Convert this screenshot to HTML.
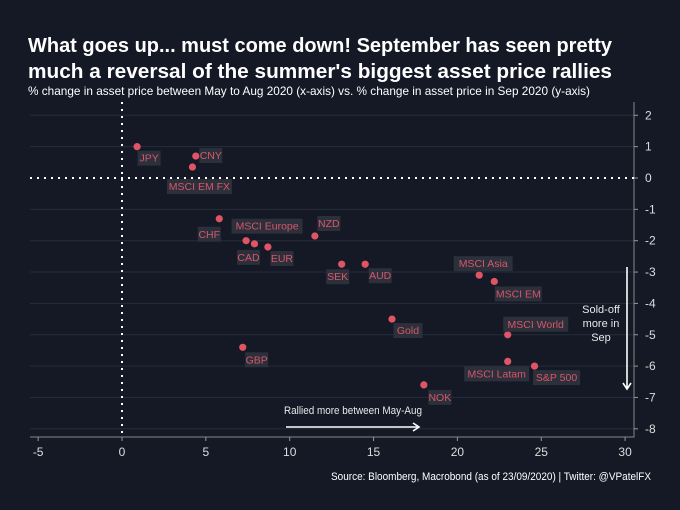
<!DOCTYPE html>
<html><head><meta charset="utf-8"><style>
body{margin:0;background:#141925;}
svg{display:block;font-family:"Liberation Sans","DejaVu Sans",sans-serif;}
</style></head><body>
<svg id="c" width="680" height="510" viewBox="0 0 680 510">
<rect width="680" height="510" fill="#141925"/>
<text x="28" y="52" fill="#fff" font-size="20.5" font-weight="bold" textLength="584" lengthAdjust="spacingAndGlyphs">What goes up... must come down! September has seen pretty</text>
<text x="28" y="78" fill="#fff" font-size="20.5" font-weight="bold" textLength="584" lengthAdjust="spacingAndGlyphs">much a reversal of the summer's biggest asset price rallies</text>
<text x="28" y="95" fill="#fff" font-size="12" textLength="562" lengthAdjust="spacingAndGlyphs">% change in asset price between May to Aug 2020 (x-axis) vs. % change in asset price in Sep 2020 (y-axis)</text>
<g id="grid"></g><g id="axes"></g><g id="marks"></g>
<text x="353" y="414" fill="#e8e8e8" font-size="11" text-anchor="middle" textLength="138" lengthAdjust="spacingAndGlyphs">Rallied more between May-Aug</text>
<g stroke="#fff" stroke-width="1.6" fill="none">
<line x1="286" y1="427" x2="419" y2="427"/><polyline points="413,423 419,427 413,431"/></g>
<text fill="#e8e8e8" font-size="11" text-anchor="middle"><tspan x="601" y="313">Sold-off</tspan><tspan x="601" y="327">more in</tspan><tspan x="601" y="341">Sep</tspan></text>
<g stroke="#fff" stroke-width="1.6" fill="none">
<line x1="627" y1="267" x2="627" y2="389"/><polyline points="623,383 627,389 631,383"/></g>
<text x="651" y="480" fill="#fff" font-size="11" text-anchor="end" textLength="320" lengthAdjust="spacingAndGlyphs">Source: Bloomberg, Macrobond (as of 23/09/2020) | Twitter: @VPatelFX</text>
</svg>
<script>
const names=["JPY","CNY","MSCI EM FX","CHF","MSCI Europe","CAD","EUR","NZD","SEK","AUD","Gold","MSCI Asia","MSCI EM","MSCI World","GBP","MSCI Latam","S&P 500","NOK"];
const xVals=[0.9,4.4,4.2,5.8,7.4,7.9,8.7,11.5,13.1,14.5,16.1,21.3,22.2,23.0,7.2,23.0,24.6,18.0];
const yVals=[1.0,0.7,0.35,-1.3,-2.0,-2.1,-2.2,-1.85,-2.75,-2.75,-4.5,-3.1,-3.3,-5.0,-5.4,-5.85,-6.0,-6.6];
const xTicks=[-5,0,5,10,15,20,25,30];
const yTicks=[2,1,0,-1,-2,-3,-4,-5,-6,-7,-8];
const labDx=[12,15,7,-10,21,-6,14,14,-4,15,16,4,24,28,14,-11,22,16];
const labDy=[11,-1,19,15,-15,13,11,-13,12,11,11,-12,12,-11,12,12,11,12];
const X=v=>122+v*16.77, Y=v=>178-v*31.35;
const L=30,R=634,T=102,B=437,ns="http://www.w3.org/2000/svg";
function mk(p,t,a){const e=document.createElementNS(ns,t);for(const k in a)e.setAttribute(k,a[k]);p.appendChild(e);return e;}
const grid=document.getElementById('grid'),axes=document.getElementById('axes'),marks=document.getElementById('marks');
yTicks.forEach(t=>{const y=Y(t);
 if(t!==0){const g=mk(grid,'line',{x1:L,x2:R,y1:y,y2:y,stroke:'#262c3a','stroke-width':1});
 
 }
 mk(axes,'line',{x1:R,x2:R+4,y1:y,y2:y,stroke:'#999'});
 const tx=mk(axes,'text',{x:R+11,y:y+4,fill:'#ddd','font-size':12});tx.textContent=t;
 
 });
xTicks.forEach(t=>{const x=X(t);
 mk(axes,'line',{x1:x,x2:x,y1:B,y2:B+4,stroke:'#999'});
 const tx=mk(axes,'text',{x:x,y:B+19,fill:'#ddd','font-size':12,'text-anchor':'middle'});tx.textContent=t;
 
 });
const ax=mk(axes,'polyline',{points:`${L},${B} ${R},${B} ${R},${T}`,fill:'none',stroke:'#888'});


const z1=mk(axes,'line',{x1:X(0),x2:X(0),y1:T,y2:B,stroke:'#fff','stroke-width':2,'stroke-dasharray':'2 5'});


const z2=mk(axes,'line',{x1:L,x2:R,y1:Y(0),y2:Y(0),stroke:'#fff','stroke-width':2,'stroke-dasharray':'2 5'});


names.forEach((n,i)=>{const px=X(xVals[i]),py=Y(yVals[i]);
 const c=mk(marks,'circle',{cx:px,cy:py,r:3.6,fill:'#e05566'});
 
 
 const cx=px+labDx[i],cy=py+labDy[i],w=n.length*6.0+5;
 const r=mk(marks,'rect',{x:cx-w/2,y:cy-7,width:w,height:15,fill:'#2b303b'});
 
 
 const t=mk(marks,'text',{x:cx,y:cy+4,fill:'#d9566a','font-size':10.5,'text-anchor':'middle'});t.textContent=n;
 
 });
</script>
</body></html>
